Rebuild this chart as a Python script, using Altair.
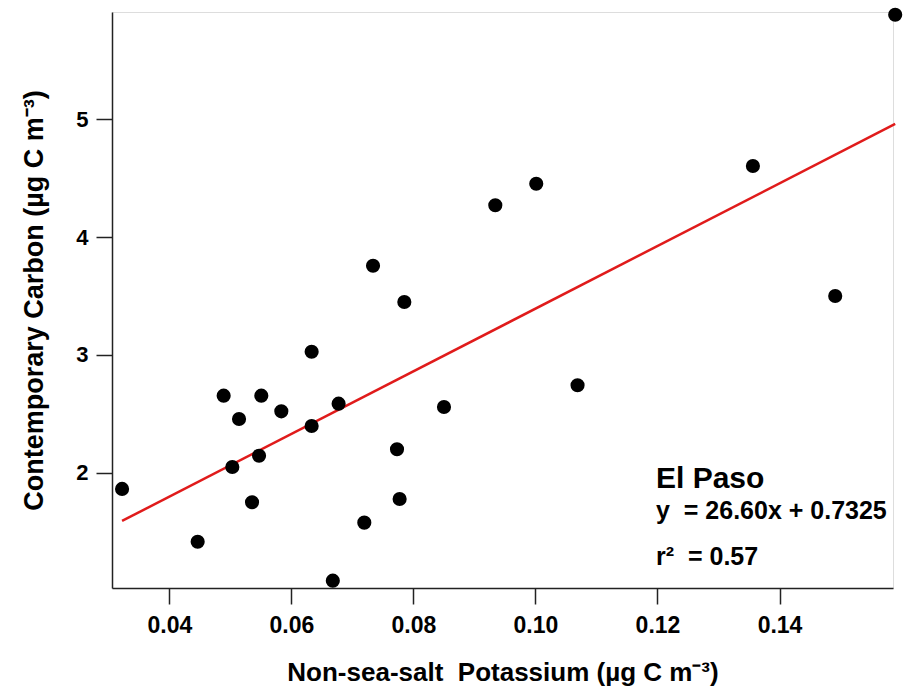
import altair as alt
import pandas as pd

# Non-sea-salt potassium (x) and contemporary carbon (y)
potassium = [0.03225, 0.04464, 0.04890, 0.05507, 0.05142, 0.05835, 0.05032, 0.05470,
             0.05355, 0.06332, 0.06774, 0.06679, 0.07338, 0.07851, 0.06332, 0.08501,
             0.10690, 0.07731, 0.07774, 0.07195, 0.15896, 0.13564, 0.14913, 0.10013,
             0.09342]
carbon = [1.862, 1.414, 2.654, 2.654, 2.456, 2.521, 2.048, 2.144,
          1.749, 2.396, 2.586, 1.083, 3.757, 3.449, 3.027, 2.558,
          2.742, 2.199, 1.777, 1.576, 5.888, 4.604, 3.500, 4.453,
          4.270]

slope = 26.60
intercept = 0.7325

x_ticks = [0.04, 0.06, 0.08, 0.10, 0.12, 0.14]
y_ticks = [2, 3, 4, 5]
x_domain = [0.0306, 0.1586]
y_domain = [1.021, 5.911]

NB = "\u00a0"
site = "El Paso"
eq_text = "y" + NB + NB + "= 26.60x + 0.7325"
r2_text = "r²" + NB + NB + "= 0.57"
x_title = "Non-sea-salt" + NB + NB + "Potassium (µg C m⁻³)"
y_title = "Contemporary Carbon (µg C m⁻³)"

FONT = "Liberation Sans"

pts = pd.DataFrame({"k": potassium, "c": carbon})
xmin, xmax = min(potassium), max(potassium)
fit = pd.DataFrame({"k": [xmin, xmax],
                    "c": [slope * xmin + intercept, slope * xmax + intercept]})

xscale = alt.Scale(domain=x_domain, nice=False, zero=False)
yscale = alt.Scale(domain=y_domain, nice=False, zero=False)

xaxis = alt.Axis(values=x_ticks, format=".2f", grid=False,
                 title=x_title,
                 titleFont=FONT, titleFontSize=26, titleFontWeight="bold",
                 titleColor="black", titleY=92, titleBaseline="alphabetic",
                 labelFont=FONT, labelFontSize=23, labelFontWeight="bold",
                 labelColor="black", labelPadding=10,
                 tickSize=16, tickColor="#222", tickWidth=1.5,
                 domainColor="#222", domainWidth=1.5)
yaxis = alt.Axis(values=y_ticks, format="d", grid=False,
                 title=y_title,
                 titleFont=FONT, titleFontSize=27, titleFontWeight="bold",
                 titleColor="black", titleX=-70, titleBaseline="alphabetic",
                 labelFont=FONT, labelFontSize=22, labelFontWeight="bold",
                 labelColor="black", labelPadding=8,
                 tickSize=16, tickColor="#222", tickWidth=1.5,
                 domainColor="#222", domainWidth=1.5)

points = alt.Chart(pts).mark_circle(size=200, color="black", opacity=1).encode(
    x=alt.X("k:Q", scale=xscale, axis=xaxis),
    y=alt.Y("c:Q", scale=yscale, axis=yaxis),
)

line = alt.Chart(fit).mark_line(color="#e01b1b", strokeWidth=2.5).encode(
    x=alt.X("k:Q", scale=xscale),
    y=alt.Y("c:Q", scale=yscale),
)

ann = pd.DataFrame({"t": [site, eq_text, r2_text],
                    "px": [544, 544, 544],
                    "py": [476, 507, 553]})

t1 = alt.Chart(ann.iloc[[0]]).mark_text(align="left", baseline="alphabetic",
                                        font=FONT, fontWeight="bold", fontSize=30,
                                        color="black").encode(
    x=alt.X("px:Q", scale=None), y=alt.Y("py:Q", scale=None), text="t:N")
t2 = alt.Chart(ann.iloc[[1, 2]]).mark_text(align="left", baseline="alphabetic",
                                           font=FONT, fontWeight="bold", fontSize=25,
                                           color="black").encode(
    x=alt.X("px:Q", scale=None), y=alt.Y("py:Q", scale=None), text="t:N")

chart = alt.layer(line, points, t1, t2).properties(
    width=781, height=576,
    autosize=alt.AutoSizeParams(type="none"),
    padding={"left": 112, "top": 12, "right": 16, "bottom": 107},
).configure_view(stroke=None).configure(background="white")

chart.save("out.html", embed_options={"renderer": "svg", "actions": False})
